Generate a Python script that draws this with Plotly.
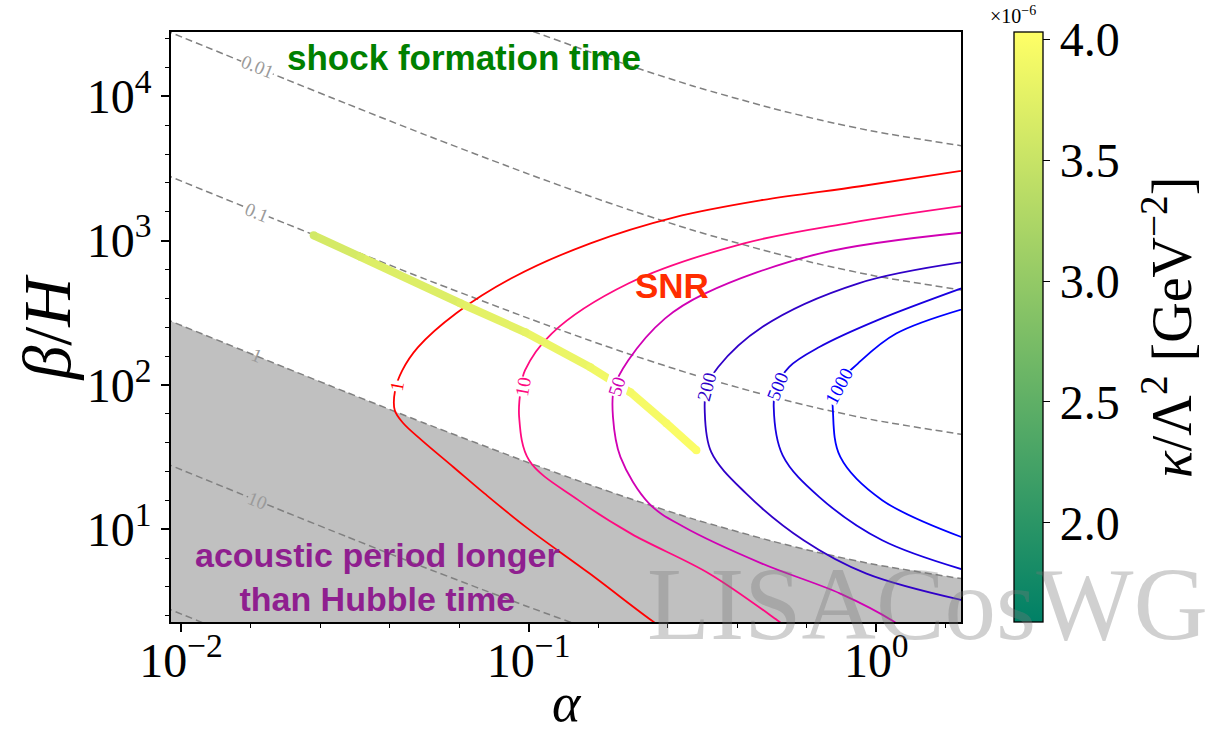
import plotly.graph_objects as go
from plotly.colors import sample_colorscale

# ---------------- data ----------------
# shock-formation-time contours (dashed grey), tau_sh * H = 0.001 ... 100
ALPHA_SHOCK = [0.009, 0.02, 0.03, 0.05, 0.1, 0.15, 0.2, 0.3, 0.5, 0.7, 1.0, 1.8]
BETA_SHOCK_0001 = [287000, 131300, 88700, 54500, 28900, 20300, 16000, 11700, 8280, 6790, 5670, 4500]
BETA_SHOCK_001 = [28700, 13130, 8870, 5450, 2890, 2030, 1600, 1170, 828, 679, 567, 450]
BETA_SHOCK_01 = [2870, 1313, 887, 545, 289, 203, 160, 117, 82.8, 67.9, 56.7, 45.0]
BETA_SHOCK_1 = [287, 131.3, 88.7, 54.5, 28.9, 20.3, 16.0, 11.7, 8.28, 6.79, 5.67, 4.50]
BETA_SHOCK_10 = [28.7, 13.13, 8.87, 5.45, 2.89, 2.03, 1.60, 1.17, 0.828, 0.679, 0.567, 0.450]
BETA_SHOCK_100 = [2.87, 1.313, 0.887, 0.545, 0.289, 0.203, 0.160, 0.117, 0.0828, 0.0679, 0.0567, 0.0450]
SHOCK_LABELS = ["0.01", "0.1", "1", "10"]

# SNR contours
SNR_LEVELS = ["1", "10", "50", "200", "500", "1000"]
SNR_COLORS = ["#ff0000", "#ff0a80", "#d000b4", "#3000c8", "#1800e0", "#0000ff"]
SNR1_ALPHA = [1.93, 0.90, 0.464, 0.2625, 0.1505, 0.0904, 0.0619, 0.0480, 0.0433, 0.0413,
              0.0412, 0.0436, 0.0493, 0.0607, 0.0746, 0.0985, 0.1495, 0.230, 0.25]
SNR1_BETA = [3150, 2380, 1900, 1450, 958, 557, 314, 182, 126, 92,
             66.7, 54.2, 41.3, 27.0, 17.7, 10.3, 4.95, 2.26, 2.0]
SNR10_ALPHA = [1.93, 0.842, 0.414, 0.1935, 0.1165, 0.0976, 0.0950, 0.0939, 0.1003, 0.139,
               0.197, 0.331, 0.519, 0.566]
SNR10_BETA = [1790, 1329, 953, 504, 227, 126, 95, 60, 30.0, 15.9, 9.32, 4.92, 2.34, 2.0]
SNR50_ALPHA = [1.93, 0.686, 0.321, 0.247, 0.1935, 0.1760, 0.1748, 0.1836, 0.2225, 0.279,
               0.469, 0.788, 1.12, 1.21]
SNR50_BETA = [1160, 813, 429, 289, 148, 95, 60, 31.7, 15.0, 10.4, 5.78, 3.58, 2.30, 2.0]
SNR200_ALPHA = [1.93, 0.885, 0.470, 0.351, 0.325, 0.321, 0.335, 0.422, 0.618, 0.937, 1.93]
SNR200_BETA = [730, 504, 252, 133, 95, 66.7, 34.3, 17.7, 8.38, 4.92, 3.07]
SNR500_ALPHA = [1.93, 1.005, 0.686, 0.561, 0.515, 0.507, 0.538, 0.686, 1.04, 1.93]
SNR500_BETA = [506, 280, 183, 133, 95, 70.3, 32.5, 16.7, 8.38, 4.95]
SNR1000_ALPHA = [1.93, 1.141, 0.885, 0.760, 0.751, 0.788, 1.04, 1.93]
SNR1000_BETA = [356, 227, 140.5, 95, 63.2, 31.7, 15.9, 8.11]

# model curve coloured by kappa / Lambda^2  (units 1e-6 GeV^-2)
MODEL_ALPHA = [0.02407, 0.0328, 0.0636, 0.0978, 0.1505, 0.1962, 0.249, 0.3038]
MODEL_BETA = [1088, 772, 368, 231.5, 132.4, 88.9, 54.2, 35.2]
MODEL_KAPPA = [3.60, 3.66, 3.74, 3.80, 3.87, 3.92, 3.96, 4.00]
KAPPA_MIN, KAPPA_MAX = 1.59, 4.03

# ticks
X_TICKS = [0.01, 0.1, 1.0]
X_TICKTEXT = ["10<sup>−2</sup>", "10<sup>−1</sup>", "10<sup>0</sup>"]
X_MINOR_EXP = [-1.8, -1.6, -1.4, -1.2, -0.8, -0.6, -0.4, -0.2, 0.2]
Y_TICKS = [10, 100, 1000, 10000]
Y_TICKTEXT = ["10<sup>1</sup>", "10<sup>2</sup>", "10<sup>3</sup>", "10<sup>4</sup>"]
Y_MINOR_EXP = [0.4, 0.6, 0.8, 1.2, 1.4, 1.6, 1.8, 2.2, 2.4, 2.6, 2.8, 3.2, 3.4, 3.6, 3.8, 4.2, 4.4]
CB_TICKS = [2.0, 2.5, 3.0, 3.5, 4.0]
CB_TICKTEXT = ["2.0", "2.5", "3.0", "3.5", "4.0"]

# ---------------- styling ----------------
SERIF = "Liberation Serif, Times New Roman, serif"
SANS = "Liberation Sans, Arial, sans-serif"
SUMMER = [[0, "rgb(0,128,102)"], [1, "rgb(255,255,102)"]]
PL, PR, PT, PB = 170.7, 960.7, 31.7, 621.7
W, H = 1228, 734
PW, PH = PR - PL, PB - PT


def px(x):
    return (x - PL) / PW


def py(y):
    return (PB - y) / PH


def note(text, x, y, size, color, family=SERIF, angle=0, bg="rgba(0,0,0,0)"):
    return dict(text=text, x=px(x), y=py(y), xref="paper", yref="paper",
                xanchor="center", yanchor="middle", showarrow=False, textangle=angle,
                bgcolor=bg, borderpad=0, align="center",
                font=dict(family=family, size=size, color=color))


fig = go.Figure()

# grey region: acoustic period longer than Hubble time
fig.add_trace(go.Scatter(x=ALPHA_SHOCK, y=BETA_SHOCK_1, mode="lines",
                         line=dict(width=0, shape="spline", smoothing=0.6),
                         fill="tozeroy", fillcolor="#c0c0c0",
                         hoverinfo="skip", showlegend=False))

for betas in [BETA_SHOCK_0001, BETA_SHOCK_001, BETA_SHOCK_01, BETA_SHOCK_1,
              BETA_SHOCK_10, BETA_SHOCK_100]:
    fig.add_trace(go.Scatter(x=ALPHA_SHOCK, y=betas, mode="lines",
                             line=dict(color="#808080", width=1.5, dash="7px,4px",
                                       shape="spline", smoothing=0.6),
                             hoverinfo="skip", showlegend=False))

snr_data = [(SNR1_ALPHA, SNR1_BETA), (SNR10_ALPHA, SNR10_BETA), (SNR50_ALPHA, SNR50_BETA),
            (SNR200_ALPHA, SNR200_BETA), (SNR500_ALPHA, SNR500_BETA),
            (SNR1000_ALPHA, SNR1000_BETA)]
for (a, b), c in zip(snr_data, SNR_COLORS):
    fig.add_trace(go.Scatter(x=a, y=b, mode="lines",
                             line=dict(color=c, width=1.8, shape="spline", smoothing=1.0),
                             hoverinfo="skip", showlegend=False))

# model curve, coloured segment by segment
for i in range(len(MODEL_ALPHA) - 1):
    v = 0.5 * (MODEL_KAPPA[i] + MODEL_KAPPA[i + 1])
    col = sample_colorscale(SUMMER, [(v - KAPPA_MIN) / (KAPPA_MAX - KAPPA_MIN)])[0]
    fig.add_trace(go.Scatter(x=MODEL_ALPHA[i:i + 2], y=MODEL_BETA[i:i + 2], mode="lines",
                             line=dict(color=col, width=8),
                             hoverinfo="skip", showlegend=False))

fig.add_trace(go.Scatter(
    x=MODEL_ALPHA, y=MODEL_BETA, mode="markers", showlegend=False, hoverinfo="skip",
    marker=dict(size=8, color=MODEL_KAPPA, colorscale=SUMMER, cmin=KAPPA_MIN, cmax=KAPPA_MAX,
                line=dict(width=0), showscale=True,
                colorbar=dict(x=px(1014), xanchor="left", xpad=0, y=1, yanchor="top", ypad=0,
                              len=PH, lenmode="pixels", thickness=28.7, thicknessmode="pixels",
                              outlinewidth=1.3, outlinecolor="black",
                              tickmode="array", tickvals=CB_TICKS, ticktext=CB_TICKTEXT,
                              ticks="outside", ticklen=7, tickwidth=1.3, tickcolor="black",
                              tickfont=dict(family=SERIF, size=48, color="black")))))

ann = []
# shock-time labels
for lab, yy, bg in zip(SHOCK_LABELS, [66, 212, 355, 500],
                       ["white", "white", "rgba(0,0,0,0)", "#c0c0c0"]):
    ann.append(note(lab, 257, yy, 19, "#9a9a9a", angle=22, bg=bg))
# SNR labels
for lab, c, xx, ang in zip(SNR_LEVELS, SNR_COLORS, [396.4, 522.6, 616.4, 706.3, 777, 838.4],
                           [-80, -80, -72, -75, -68, -62]):
    ann.append(note(lab, xx, 386, 19, c, angle=ang, bg="white"))

ann += [
    note("<b>shock formation time</b>", 464, 57, 35, "#008000", family=SANS),
    note("<b>SNR</b>", 672, 285, 35, "#ff2d00", family=SANS),
    note("<b>acoustic period longer<br>than Hubble time</b>", 377, 577, 34, "#8f1f8f",
         family=SANS),
    note("LISACosWG", 927, 604, 103, "rgba(120,120,120,0.35)"),
    note("<i>α</i>", 567, 703, 54, "black"),
    note("<i>β</i>/<i>H</i>", 47, 327, 68, "black", angle=-90),
    note("<i>κ</i>/Λ<sup>2</sup> [GeV<sup>−2</sup>]", 1168, 327.5, 56, "black", angle=-90),
    note("×10<sup>−6</sup>", 1013, 15, 20, "black"),
]

axis_common = dict(type="log", showgrid=False, zeroline=False, showline=True,
                   linecolor="black", linewidth=1.5, mirror=True, ticks="outside",
                   ticklen=8, tickwidth=1.5, tickcolor="black",
                   tickfont=dict(family=SERIF, size=48, color="black"))

fig.update_layout(
    width=W, height=H, margin=dict(l=PL, r=W - PR, t=PT, b=H - PB, pad=0),
    paper_bgcolor="white", plot_bgcolor="white", showlegend=False,
    xaxis=dict(range=[-2.0288, 0.2437], tickmode="array", tickvals=X_TICKS,
               ticktext=X_TICKTEXT, ticklabelstandoff=-12,
               minor=dict(tickmode="array", tickvals=[10 ** e for e in X_MINOR_EXP],
                          ticks="outside", ticklen=4.5, tickwidth=1.2, tickcolor="black",
                          showgrid=False),
               **axis_common),
    yaxis=dict(range=[0.3569, 4.4456], tickmode="array", tickvals=Y_TICKS,
               ticktext=Y_TICKTEXT,
               minor=dict(tickmode="array", tickvals=[10 ** e for e in Y_MINOR_EXP],
                          ticks="outside", ticklen=4.5, tickwidth=1.2, tickcolor="black",
                          showgrid=False),
               **axis_common),
    annotations=ann,
)

fig.write_html("out.html")
